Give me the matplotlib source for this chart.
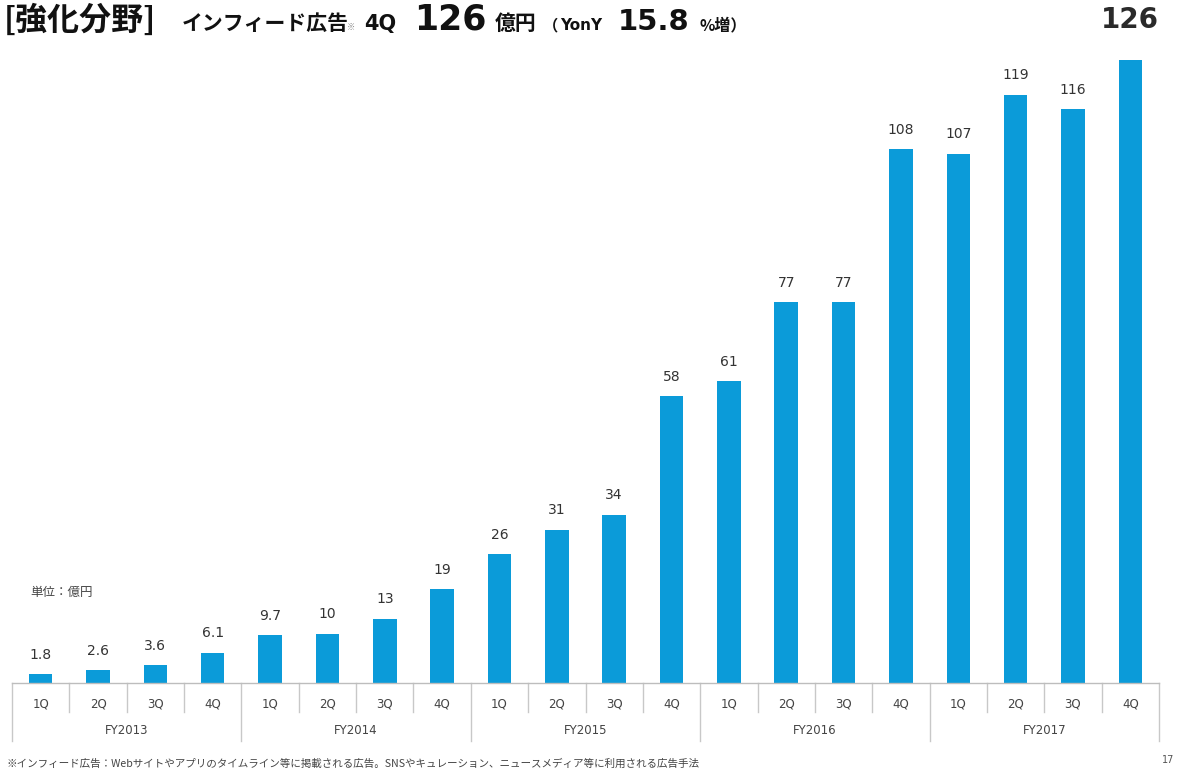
import matplotlib
matplotlib.use("Agg")
import matplotlib.pyplot as plt
from matplotlib.lines import Line2D

JF = ['Noto Sans CJK JP', 'DejaVu Sans']
DF = ['DejaVu Sans', 'Noto Sans CJK JP']
plt.rcParams['font.family'] = DF

quarters = ["1Q", "2Q", "3Q", "4Q"] * 5
years = ["FY2013", "FY2014", "FY2015", "FY2016", "FY2017"]
values = [1.8, 2.6, 3.6, 6.1, 9.7, 10, 13, 19, 26, 31, 34, 58, 61, 77, 77, 108, 107, 119, 116, 126]
value_labels = ["1.8", "2.6", "3.6", "6.1", "9.7", "10", "13", "19", "26", "31", "34", "58",
                "61", "77", "77", "108", "107", "119", "116", "126"]

W, H = 1177, 776
fig = plt.figure(figsize=(W / 100, H / 100), dpi=100)
fig.patch.set_facecolor("white")

left_px, right_px, base_px, top_px = 12, 1159, 683, 60
ax = fig.add_axes([left_px / W, (H - base_px) / H, (right_px - left_px) / W, (base_px - top_px) / H])
n = len(values)
x = list(range(n))
bar_color = "#0b9bd9"
ax.bar(x, values, width=0.41, color=bar_color, zorder=2)
ax.set_xlim(-0.5, n - 0.5)
ax.set_ylim(0, 126)
for s in ["top", "right", "left"]:
    ax.spines[s].set_visible(False)
ax.spines["bottom"].set_color("#bdbdbd")
ax.spines["bottom"].set_linewidth(1.0)
ax.set_xticks([])
ax.set_yticks([])

# value labels
for i, (v, lab) in enumerate(zip(values, value_labels)):
    if i == n - 1:
        continue
    ax.annotate(lab, (i, v), xytext=(0, 9), textcoords="offset points",
                ha="center", va="bottom", fontsize=10, color="#333333", family=DF)
# last big label
ax.annotate(value_labels[-1], (n - 1, values[-1]), xytext=(0, 23), textcoords="offset points",
            ha="center", va="baseline", fontsize=20, fontweight="bold", color="#2a2a2a",
            annotation_clip=False, family=DF)

# category axis labels and separators
trans = ax.get_xaxis_transform()
def ypx(p):
    return (base_px - p) / (base_px - top_px)

for i in range(n):
    ax.text(i, ypx(704), quarters[i], transform=trans, ha="center", va="center",
            fontsize=8.5, color="#444444", clip_on=False, family=DF)
for i in range(n + 1):
    xb = i - 0.5
    y2 = ypx(741) if i % 4 == 0 else ypx(712)
    ax.add_line(Line2D([xb, xb], [0, y2], transform=trans, color="#c8c8c8", lw=1.0, clip_on=False))
for k, yr in enumerate(years):
    ax.text(4 * k + 1.5, ypx(731), yr, transform=trans, ha="center", va="center",
            fontsize=8.5, color="#444444", clip_on=False, family=DF)

# unit label
fig.text(30 / W, 1 - 592 / H, "単位：億円", fontsize=9, color="#444444", va="center", ha="left", family=JF)

# title pieces (baseline aligned)
yb = 1 - 30 / H
fig.text(4 / W, yb, "[強化分野]", fontsize=23, fontweight="bold", color="#111111", va="baseline", family=JF)
fig.text(182 / W, yb, "インフィード広告", fontsize=15, fontweight="bold", color="#111111", va="baseline", family=JF)
fig.text(347 / W, yb, "※", fontsize=6, color="#888888", va="baseline", family=JF)
fig.text(364 / W, yb, "4Q", fontsize=15, fontweight="bold", color="#111111", va="baseline", family=DF)
fig.text(414 / W, yb, "126", fontsize=25, fontweight="bold", color="#111111", va="baseline", family=DF)
fig.text(495 / W, yb, "億円", fontsize=15, fontweight="bold", color="#111111", va="baseline", family=JF)
fig.text(543 / W, yb, "（", fontsize=11, fontweight="bold", color="#111111", va="baseline", family=JF)
fig.text(560 / W, yb, "YonY", fontsize=11, fontweight="bold", color="#111111", va="baseline", family=DF)
fig.text(618 / W, yb, "15.8", fontsize=21, fontweight="bold", color="#111111", va="baseline", family=DF)
fig.text(700 / W, yb, "%増）", fontsize=11.5, fontweight="bold", color="#111111", va="baseline", family=JF)

# footnote
fig.text(6 / W, 1 - 764 / H,
         "※インフィード広告：Webサイトやアプリのタイムライン等に掲載される広告。SNSやキュレーション、ニュースメディア等に利用される広告手法",
         fontsize=7.6, color="#444444", va="center", ha="left", family=JF)
fig.text(1162 / W, 1 - 760 / H, "17", fontsize=7, color="#555555", va="center", ha="left", family=DF)

fig.savefig("out.png", dpi=100, facecolor="white")
